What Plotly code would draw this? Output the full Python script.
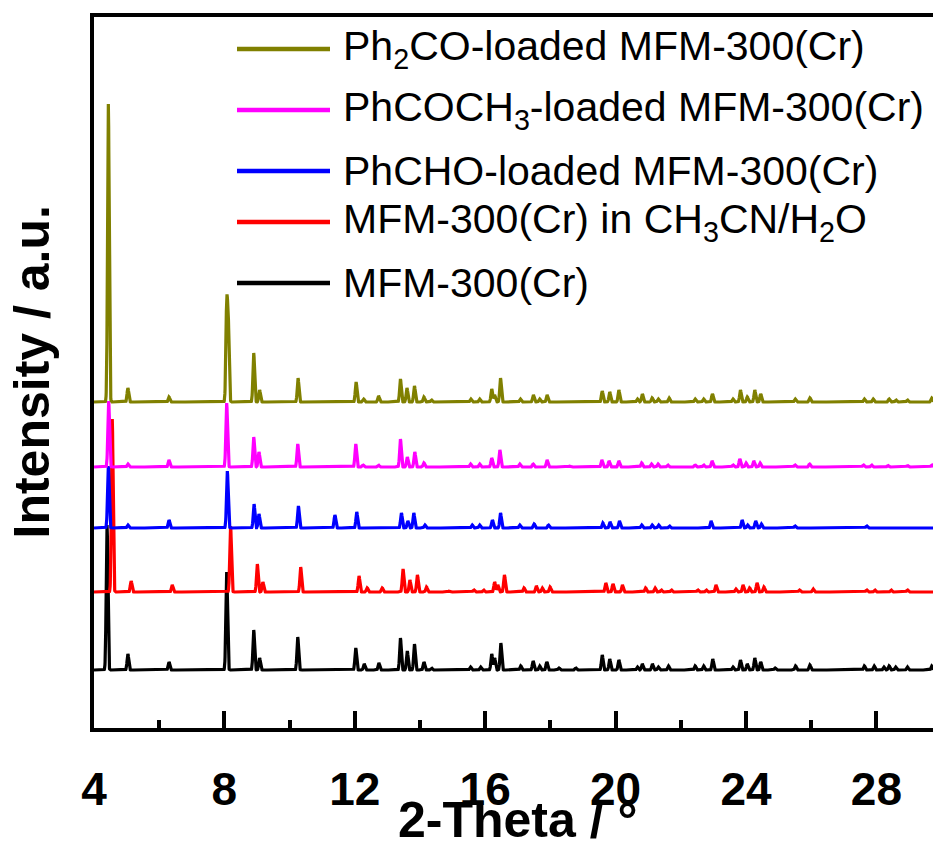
import numpy as np
import plotly.graph_objects as go

# ---- peak tables: 2-theta position (deg) and relative intensity (a.u.) ----
mfm_pos = [4.40, 5.04, 6.30, 8.07, 8.90, 9.08, 10.25, 12.03, 12.29, 12.74, 13.40, 13.61,
           13.83, 14.12, 14.35, 15.55, 15.86, 16.20, 16.29, 16.48, 17.09, 17.47, 17.67,
           17.89, 18.26, 18.78, 19.59, 19.82, 20.10, 20.67, 20.82, 21.13, 21.31, 21.62,
           22.44, 22.70, 22.98, 23.60, 23.83, 24.04, 24.27, 24.45, 24.89, 25.52, 25.96,
           27.63, 27.93, 28.23, 28.39, 28.59, 28.95, 29.70]
mfm_int = [145, 16, 8, 98, 40, 12, 33, 22, 6, 7, 32, 19,
           26, 8, 2, 3, 3, 16, 12, 27, 4, 9, 4,
           8, 2, 2, 15, 11, 10, 3, 6, 6, 3, 4,
           4, 4, 11, 3, 10, 6, 12, 8, 2, 4, 5,
           4, 4, 3, 4, 3, 3, 4]

solv_pos = [4.56, 5.14, 6.40, 8.19, 9.01, 9.18, 10.34, 12.13, 12.38, 12.84, 13.48, 13.69,
            13.92, 14.20, 14.90, 15.65, 15.95, 16.29, 16.39, 16.59, 17.19, 17.57, 17.75,
            17.99, 19.70, 19.92, 20.21, 20.92, 21.21, 21.40, 21.71, 22.52, 22.78, 23.08,
            23.69, 23.91, 24.11, 24.34, 24.55, 25.64, 26.06, 27.70, 27.95, 28.45, 28.95]
solv_int = [173, 11, 7, 66, 28, 10, 25, 16, 4, 4, 23, 12,
            17, 5, 1, 2, 2, 10, 7, 17, 4, 6, 4,
            5, 9, 8, 7, 4, 4, 2, 2, 2, 2, 7,
            3, 7, 4, 9, 5, 2, 3, 2, 2, 2, 2]

phcho_pos = [4.44, 5.04, 6.30, 8.09, 8.91, 9.06, 10.27, 11.39, 12.06, 13.43, 13.63, 13.81,
             14.15, 15.60, 15.83, 16.22, 16.47, 17.06, 17.50, 17.94, 19.61, 19.83, 20.12,
             20.80, 21.12, 21.32, 21.65, 22.93, 23.88, 24.05, 24.30, 24.47, 25.50, 27.70]
phcho_int = [62, 3, 8, 57, 24, 14, 22, 13, 16, 15, 7, 15,
             3, 3, 3, 8, 15, 3, 4, 3, 5, 6, 7,
             3, 3, 3, 2, 7, 8, 3, 7, 4, 2, 2]

phcoch3_pos = [4.45, 5.04, 6.30, 8.07, 8.90, 9.06, 10.25, 12.03, 12.25, 12.72, 13.40, 13.61,
               13.84, 14.12, 15.55, 15.83, 16.20, 16.45, 17.06, 17.47, 17.90, 18.60, 19.58,
               19.80, 20.10, 20.80, 21.10, 21.30, 21.60, 22.44, 22.70, 22.96, 23.60, 23.81,
               24.00, 24.24, 24.43, 25.50, 25.95, 27.60, 27.85, 28.35, 28.95, 29.70]
phcoch3_int = [66, 3, 7, 64, 30, 15, 23, 23, 2, 2, 28, 10,
               15, 4, 3, 3, 9, 17, 3, 3, 7, 1, 7,
               6, 6, 4, 3, 3, 2, 2, 2, 6, 2, 8,
               4, 6, 4, 2, 3, 2, 2, 1.5, 1.5, 2]

ph2co_pos = [4.44, 5.04, 6.30, 8.07, 8.12, 8.90, 9.08, 10.26, 12.04, 12.27, 12.73, 13.40,
             13.60, 13.83, 14.12, 14.35, 15.56, 15.83, 16.20, 16.29, 16.47, 17.08, 17.48,
             17.67, 17.90, 19.59, 19.82, 20.10, 20.67, 20.82, 21.12, 21.31, 21.64, 22.44,
             22.70, 22.97, 23.60, 23.83, 24.04, 24.27, 24.45, 25.51, 25.96, 27.63, 27.90,
             28.39, 28.60, 28.95, 29.70]
ph2co_int = [298, 14, 5, 94, 75, 49, 12, 24, 20, 3, 6, 23,
             14, 16, 5, 2, 3, 3, 13, 7, 24, 3, 7,
             3, 7, 11, 10, 12, 3, 8, 4, 3, 4, 3,
             3, 8, 3, 12, 5, 12, 8, 3, 4, 3, 3,
             3, 2, 2, 4]

names = ["MFM-300(Cr)", "MFM-300(Cr) in CH3CN/H2O", "PhCHO-loaded MFM-300(Cr)",
         "PhCOCH3-loaded MFM-300(Cr)", "Ph2CO-loaded MFM-300(Cr)"]
legend_labels = ["MFM-300(Cr)", "MFM-300(Cr) in CH<sub>3</sub>CN/H<sub>2</sub>O",
                 "PhCHO-loaded MFM-300(Cr)", "PhCOCH<sub>3</sub>-loaded MFM-300(Cr)",
                 "Ph<sub>2</sub>CO-loaded MFM-300(Cr)"]
stack_offsets = [58, 136, 200, 261, 326]
colors = ["#000000", "#FF0000", "#0000FF", "#FF00FF", "#808000"]

x_ticks = [4, 8, 12, 16, 20, 24, 28]

# ---- profiles ----
two_theta = np.arange(4.0, 29.76, 0.005)
SIGMA = 0.025


def profile(pos, ints):
    y = np.zeros_like(two_theta)
    for p, h in zip(pos, ints):
        y += h * np.exp(-0.5 * ((two_theta - p) / SIGMA) ** 2)
    return y


patterns = [(mfm_pos, mfm_int), (solv_pos, solv_int), (phcho_pos, phcho_int),
            (phcoch3_pos, phcoch3_int), (ph2co_pos, ph2co_int)]

fig = go.Figure()
for (pos, ints), off, col, nm in zip(patterns, stack_offsets, colors, names):
    fig.add_trace(go.Scatter(x=two_theta, y=profile(pos, ints) + off, mode="lines",
                             name=nm, line=dict(color=col, width=3.2),
                             showlegend=False))

# ---- geometry ----
W, H = 933, 844
L, R, T, B = 94, 0, 17, 116
pw, ph = W - L - R, H - T - B

def px_x(px):
    return (px - L) / pw

def px_y(py):
    return (H - B - py) / ph

FONT = "Liberation Sans, Arial, sans-serif"

# ---- legend drawn as line samples + labels ----
legend_rows = [283, 222, 171, 110, 49]
for lab, col, ry in zip(legend_labels, colors, legend_rows):
    fig.add_shape(type="line", xref="paper", yref="paper",
                  x0=px_x(237), x1=px_x(330), y0=px_y(ry), y1=px_y(ry),
                  line=dict(color=col, width=4.5))
    fig.add_annotation(xref="paper", yref="paper", x=px_x(341), y=px_y(ry),
                       xanchor="left", yanchor="middle", text=lab, showarrow=False,
                       font=dict(family=FONT, size=41, color="black"))

# ---- axis titles ----
fig.add_annotation(xref="paper", yref="paper", x=px_x(517), y=px_y(820),
                   text="2-Theta / °", showarrow=False, xanchor="center", yanchor="middle",
                   font=dict(family=FONT, size=50, color="black", weight="bold"))
fig.add_annotation(xref="paper", yref="paper", x=px_x(31), y=0.5,
                   text="Intensity / a.u.", showarrow=False, textangle=-90,
                   xanchor="center", yanchor="middle",
                   font=dict(family=FONT, size=50, color="black", weight="bold"))

fig.update_xaxes(range=[4, 4 + pw / 32.6], tickmode="array", tickvals=x_ticks,
                 ticktext=[str(v) for v in x_ticks],
                 showline=True, linewidth=4, linecolor="black", mirror=True,
                 ticks="inside", ticklen=17, tickwidth=3.5, tickcolor="black",
                 ticklabelstandoff=18,
                 minor=dict(ticks="inside", ticklen=8, tickwidth=3.5, tickcolor="black",
                            tickvals=[6, 10, 14, 18, 22, 26]),
                 showgrid=False, zeroline=False,
                 tickfont=dict(family=FONT, size=46, color="black", weight="bold"))
fig.update_yaxes(range=[0, ph], showline=True, linewidth=4, linecolor="black",
                 showticklabels=False, ticks="", showgrid=False, zeroline=False)

fig.update_layout(width=W, height=H, margin=dict(l=L, r=R, t=T, b=B, autoexpand=False),
                  paper_bgcolor="white", plot_bgcolor="white", showlegend=False)

fig.write_html("out.html")
